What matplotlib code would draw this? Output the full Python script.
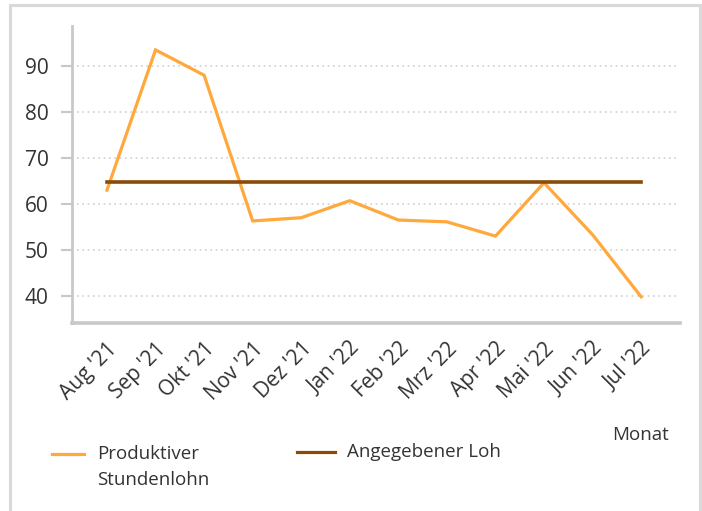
import matplotlib
matplotlib.use("Agg")
import matplotlib.pyplot as plt
from matplotlib.lines import Line2D
from matplotlib.transforms import Bbox, TransformedBbox

months = ["Aug '21", "Sep '21", "Okt '21", "Nov '21", "Dez '21", "Jan '22",
          "Feb '22", "Mrz '22", "Apr '22", "Mai '22", "Jun '22", "Jul '22"]
produktiv = [63.0, 93.5, 88.0, 56.3, 57.0, 60.7, 56.5, 56.1, 53.0, 64.6, 53.3, 39.8]
angegeben = [64.8] * 12
yticks = [40, 50, 60, 70, 80, 90]

ORANGE = "#FFA83C"
BROWN = "#8A4A08"
GREY = "#C8C8C8"
TXT = "#333333"

plt.rcParams['font.family'] = ['Open Sans', 'DejaVu Sans']

W, H = 702, 511
fig = plt.figure(figsize=(W / 100, H / 100), dpi=100)

def fx(px):
    return px / W
def fy(py):
    return 1 - py / H

# outer border
for xs, ys in [((10, 10), (5, 520)), ((10, 700), (5, 5)), ((700, 700), (5, 520))]:
    fig.add_artist(Line2D([fx(xs[0]), fx(xs[1])], [fy(ys[0]), fy(ys[1])],
                          color="#D9D9D9", lw=2.2, transform=fig.transFigure))

ax = fig.add_axes([fx(72), fy(323), fx(680) - fx(72), fy(26) - fy(323)])
x = list(range(len(months)))
ax.plot(x, produktiv, color=ORANGE, lw=2.3, solid_joinstyle='miter', zorder=3)
ax.plot(x, angegeben, color=BROWN, lw=2.6, zorder=4)

ax.set_xlim(-0.72, 11.8)
ax.set_ylim(34.1, 98.7)
ax.set_yticks(yticks)
ax.set_xticks(x)
ax.set_xticklabels(months, rotation=45, ha='right', va='top', rotation_mode='anchor',
                   fontsize=15, color=TXT)
ax.tick_params(axis='x', length=0, pad=11)
ax.tick_params(axis='y', length=8, width=1.5, color=GREY, pad=9, labelsize=15,
               labelcolor=TXT)

for yv in yticks:
    ax.plot([-0.62, 11.75], [yv, yv], color="#D0D0D0", lw=1.2, ls=(0, (1, 2.2)), zorder=1)

for s in ['top', 'right']:
    ax.spines[s].set_visible(False)
ax.spines['left'].set_color(GREY)
ax.spines['left'].set_linewidth(2)
ax.spines['bottom'].set_color(GREY)
ax.spines['bottom'].set_linewidth(2.6)

fig.text(fx(669), fy(440), "Monat", ha='right', va='baseline', fontsize=13.5, color=TXT)

# legend
fig.add_artist(Line2D([fx(52), fx(84)], [fy(454), fy(454)], color=ORANGE, lw=2.3,
                      transform=fig.transFigure))
fig.text(fx(97), fy(459), "Produktiver", ha='left', va='baseline',
         fontsize=13.5, color=TXT)
fig.text(fx(97), fy(485), "Stundenlohn", ha='left', va='baseline',
         fontsize=13.5, color=TXT)
fig.add_artist(Line2D([fx(297), fx(335)], [fy(452), fy(452)], color=BROWN, lw=2.3,
                      transform=fig.transFigure))
t = fig.text(fx(347), fy(457), "Angegebener Lohn", ha='left', va='baseline',
             fontsize=13.5, color=TXT)
t.set_clip_on(True)
t.set_clip_box(TransformedBbox(Bbox.from_extents(0, 0, fx(500), 1), fig.transFigure))

fig.savefig("out.png", dpi=100)
